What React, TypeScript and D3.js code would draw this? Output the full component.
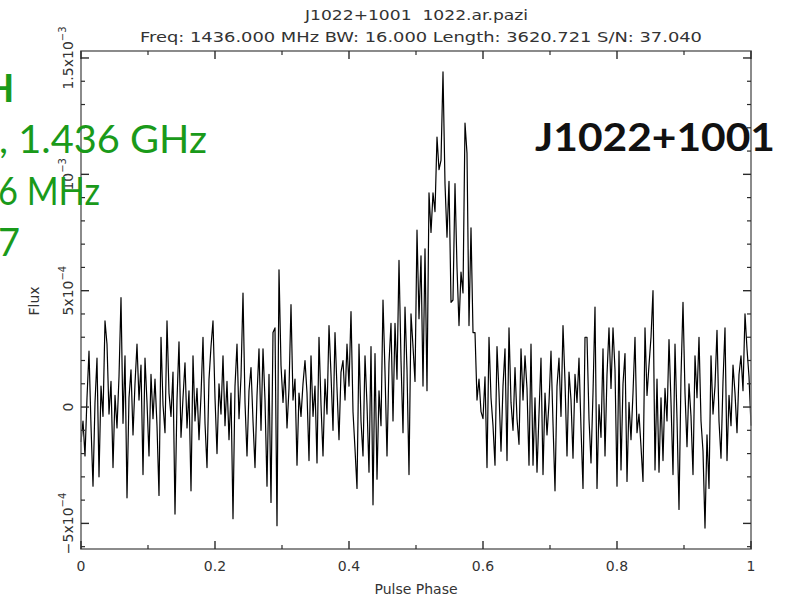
import React from "react";
import * as d3 from "d3";

// Integrated pulse profile, flux in units of 1e-4, one value per phase bin (bins span phase 0..1)
const profileFlux: number[] = [
  -1.5, -0.6, -2.1, 0.4, 2.4, -0.8, -3.4, 0.2, 2.1, -3.0,
  0.9, -0.4, 3.7, 2.7, -0.3, 1.1, -2.6, 0.5, -0.9, 1.3,
  4.7, -0.7, 2.2, -3.9, 0.4, 1.6, -1.2, 1.0, 2.7, 0.3,
  1.8, -2.9, 2.1, 0.2, -2.1, 1.4, -0.5, 1.2, -0.8, -3.8,
  3.0, 0.1, -1.1, 3.7, 0.6, -0.4, 1.5, -4.6, 0.3, 2.8,
  -1.3, 0.4, 1.9, -0.9, 0.7, -3.6, 2.2, -0.6, 0.8, -1.4,
  0.5, 3.0, -0.7, -2.6, 1.2, 2.6, 3.7, 0.4, -2.0, 1.0,
  -0.3, 2.2, -0.8, 1.1, -1.4, 0.6, -4.8, 0.9, 2.7, -0.5,
  1.3, 4.9, 0.2, -2.1, 0.7, 1.7, -0.6, -2.6, 0.5, 2.5,
  -1.0, 2.5, 0.3, -3.4, 1.4, -4.1, 3.2, 3.4, -5.1, 5.9,
  1.8, 0.2, 1.6, -0.9, 0.8, 4.4, 0.3, 1.2, -2.5, 0.6, -0.4, 1.0, 2.0,
  0.6, -2.3, 2.2, -0.4, 0.9, -2.4, 3.0, 0.1, -2.1, 1.2,
  -0.3, 3.5, 1.4, -1.0, 3.2, 0.8, -1.4, 1.5, 2.0, 0.3,
  2.7, 0.9, 4.1, -0.2, -1.8, -3.5, 2.7, -0.6, -2.1, 2.2,
  0.1, -2.8, 2.6, -4.2, 2.3, -3.1, 0.7, -0.8, 4.6, 1.5,
  -2.1, 1.9, 3.6, -0.6, 3.6, 1.2, 6.3, 2.0, -1.1, 4.3,
  1.6, -2.9, 4.0, 2.6, 1.1, 7.6, 3.8, 6.5, 0.9, 6.8,
  0.7, 9.2, 7.5, 9.2, 8.4, 11.6, 10.2, 10.6, 14.4, 9.6,
  7.3, 9.7, 4.5, 4.6, 9.6, 6.0, 3.5, 5.8, 4.9, 12.2,
  10.9, 3.5, 7.7, 3.2, 3.2, 0.3, 1.2, -0.2, -0.5, 1.3,
  -2.6, 3.0, 0.4, -0.8, -2.5, 2.6, 0.6, -1.9, 0.9, 2.5,
  -2.3, 3.4, 0.2, -1.0, 1.7, -0.5, -1.6, 2.5, 0.3, 2.2, 0.8, -2.5,
  2.7, -2.5, 0.4, -2.8, -0.3, 2.1, -2.9, 0.6, -1.2, 0.2,
  2.4, -0.7, -3.6, 0.9, 2.1, -0.4, 3.5, 1.1, -2.1, 1.5,
  0.3, -2.2, 1.4, 0.2, 2.1, -0.9, -3.5, 3.0, 3.0, -0.5,
  -2.4, 0.6, 4.3, -3.5, 0.1, -1.3, 2.5, -2.1, 1.4, 3.4,
  0.8, 3.4, 1.6, -3.4, 2.4, -2.7, 1.0, 2.3, -3.2, 0.2,
  -1.4, 0.6, 3.0, -1.1, -0.3, -1.7, -3.2, 3.4, 0.5, 1.8,
  3.0, 5.0, -2.7, 1.2, -2.8, 0.4, -2.3, 0.8, -0.6, 2.9,
  0.2, -2.9, 2.7, -0.5, -4.4, 1.3, 4.5, 0.6, -1.7, 1.0,
  -0.4, -2.9, 2.2, 0.4, 3.0, -0.6, -1.9, -5.2, -1.2, -3.5,
  2.2, -0.3, 0.9, 3.3, -0.6, -2.2, 1.1, 3.4, -2.3, 0.5,
  -0.8, 1.8, 0.6, -1.1, 1.4, 2.2, 0.7, 4.0, 2.5, 1.3, -0.8,
];

const xMajorTicks = [0, 0.2, 0.4, 0.6, 0.8, 1];
const xTickLabels = ["0", "0.2", "0.4", "0.6", "0.8", "1"];
const yMajorTicks = [-5, 0, 5, 10, 15];
const yTickMantissa = ["\u22125x10", "0", "5x10", "10", "1.5x10"];
const yTickExponent = ["\u22124", "", "\u22124", "\u22123", "\u22123"];
const titleLines = [
  "J1022+1001  1022.ar.pazi",
  "Freq: 1436.000 MHz BW: 16.000 Length: 3620.721 S/N: 37.040",
];
const noteLines = ["H", ", 1.436 GHz", "6 MHz", "7"];
const pulsarName = "J1022+1001";

const W = 792;
const H = 600;
const left = 81;
const right = 751;
const top = 51;
const bottom = 549;

export default function App() {
  const x = d3.scaleLinear().domain([0, 1]).range([left, right]);
  const y = d3.scaleLinear().domain([-6.1, 15.3]).range([bottom, top]);
  const n = profileFlux.length;
  const line = d3
    .line<number>()
    .x((_, i) => x(i / (n - 1)))
    .y((d) => y(d));

  const xMinor = d3.range(0, 1.0001, 0.1).filter((t) => Math.abs(t * 5 - Math.round(t * 5)) > 1e-6);
  const yMinor = d3.range(-6, 15.3, 1).filter((t) => t % 5 !== 0);

  const tickColor = "#2a2a2a";
  const textColor = "#333";

  return (
    <svg
      width={W}
      height={H}
      style={{ position: "absolute", left: 0, top: 0, background: "#fff" }}
      fontFamily="'DejaVu Sans', sans-serif"
    >
      <rect x={0} y={0} width={W} height={H} fill="#fff" />

      {/* titles */}
      <text x={305} y={20} fontSize={14} fill={textColor} textLength={223} lengthAdjust="spacingAndGlyphs" style={{ whiteSpace: "pre" }}>
        {titleLines[0]}
      </text>
      <text x={140} y={42} fontSize={14} fill={textColor} textLength={562} lengthAdjust="spacingAndGlyphs">
        {titleLines[1]}
      </text>

      {/* profile */}
      <path d={line(profileFlux) || ""} fill="none" stroke="#000" strokeWidth={1.2} strokeLinejoin="round" />

      {/* frame */}
      <rect x={left} y={top} width={right - left} height={bottom - top} fill="none" stroke="#6e6e6e" strokeWidth={1.6} />

      {/* x ticks, bottom and top */}
      {xMajorTicks.map((t) => (
        <g key={"xM" + t} stroke={tickColor} strokeWidth={1.4}>
          <line x1={x(t)} x2={x(t)} y1={bottom} y2={bottom - 8} />
          <line x1={x(t)} x2={x(t)} y1={top} y2={top + 8} />
        </g>
      ))}
      {xMinor.map((t) => (
        <g key={"xm" + t} stroke={tickColor} strokeWidth={1.2}>
          <line x1={x(t)} x2={x(t)} y1={bottom} y2={bottom - 4} />
          <line x1={x(t)} x2={x(t)} y1={top} y2={top + 4} />
        </g>
      ))}

      {/* y ticks, left and right */}
      {yMajorTicks.map((t) => (
        <g key={"yM" + t} stroke={tickColor} strokeWidth={1.4}>
          <line x1={left} x2={left + 8} y1={y(t)} y2={y(t)} />
          <line x1={right} x2={right - 8} y1={y(t)} y2={y(t)} />
        </g>
      ))}
      {yMinor.map((t) => (
        <g key={"ym" + t} stroke={tickColor} strokeWidth={1.2}>
          <line x1={left} x2={left + 4} y1={y(t)} y2={y(t)} />
          <line x1={right} x2={right - 4} y1={y(t)} y2={y(t)} />
        </g>
      ))}

      {/* x tick labels */}
      {xMajorTicks.map((t, i) => (
        <text key={"xl" + t} x={x(t)} y={571} fontSize={14} fill={textColor} textAnchor="middle">
          {xTickLabels[i]}
        </text>
      ))}
      <text x={416} y={594} fontSize={14} fill={textColor} textAnchor="middle">
        Pulse Phase
      </text>

      {/* y tick labels */}
      {yMajorTicks.map((t, i) => (
        <text
          key={"yl" + t}
          transform={`translate(73,${y(t)}) rotate(-90)`}
          fontSize={14}
          fill={textColor}
          textAnchor="middle"
        >
          {yTickMantissa[i]}
          {yTickExponent[i] ? (
            <tspan dy={-7} fontSize={10}>
              {yTickExponent[i]}
            </tspan>
          ) : null}
        </text>
      ))}
      <text transform="translate(39,301) rotate(-90)" fontSize={14} fill={textColor} textAnchor="middle">
        Flux
      </text>

      {/* annotations */}
      <text x={535} y={151} fontFamily="Lato, 'Open Sans', sans-serif" fontWeight="bold" fontSize={38} fill="#111" textLength={240} lengthAdjust="spacingAndGlyphs">
        {pulsarName}
      </text>
      <g fontFamily="Lato, 'Open Sans', sans-serif" fontSize={38} fill="#1a9a1a">
        <text x={-15} y={102} fontWeight="bold">
          {noteLines[0]}
        </text>
        <text x={-1} y={153} textLength={208} lengthAdjust="spacingAndGlyphs">
          {noteLines[1]}
        </text>
        <text x={-2} y={205} textLength={102} lengthAdjust="spacingAndGlyphs">
          {noteLines[2]}
        </text>
        <text x={-2} y={256}>
          {noteLines[3]}
        </text>
      </g>
    </svg>
  );
}
